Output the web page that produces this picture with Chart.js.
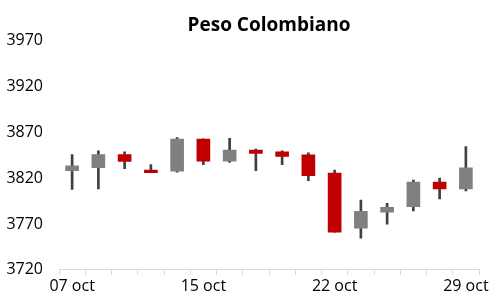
<!DOCTYPE html>
<html>
<head>
<meta charset="utf-8">
<script src="https://cdn.jsdelivr.net/npm/chart.js@4/dist/chart.umd.min.js"></script>
<style>
html,body{margin:0;padding:0;background:#fff;}
#wrap{width:503px;height:306px;position:relative;}
</style>
</head>
<body>
<div id="wrap"><canvas id="c"></canvas></div>
<script>
const labels = ['07 oct','08 oct','09 oct','10 oct','11 oct','15 oct','16 oct','17 oct','18 oct','21 oct','22 oct','23 oct','24 oct','25 oct','28 oct','29 oct'];
const openV  = [3828.3, 3831.6, 3845.9, 3829.0, 3827.6, 3862.8, 3838.6, 3850.7, 3848.9, 3845.6, 3825.7, 3765.5, 3782.8, 3789.0, 3815.8, 3808.4];
const closeV = [3833.4, 3845.9, 3838.2, 3826.0, 3862.8, 3838.6, 3850.7, 3847.0, 3843.7, 3822.8, 3761.1, 3783.9, 3788.3, 3815.8, 3808.4, 3831.2];
const highV  = [3845.9, 3850.0, 3848.9, 3834.9, 3864.3, 3863.0, 3863.5, 3851.8, 3850.0, 3847.8, 3829.0, 3796.0, 3792.7, 3818.0, 3820.2, 3854.4];
const lowV   = [3807.8, 3808.4, 3830.5, 3826.0, 3826.5, 3834.9, 3837.1, 3828.3, 3834.9, 3817.2, 3761.1, 3754.5, 3769.9, 3784.2, 3797.4, 3806.2];
const shownLabels = ['07 oct','15 oct','22 oct','29 oct'];

const UP = '#808080', DOWN = '#C00000', WICK = '#404040';
const bodyData = labels.map((_, i) => [openV[i], closeV[i]]);
const wickData = labels.map((_, i) => [lowV[i], highV[i]]);
const bodyColors = labels.map((_, i) => closeV[i] >= openV[i] ? UP : DOWN);

const FONT = "'Open Sans', sans-serif";

new Chart(document.getElementById('c'), {
  type: 'bar',
  data: {
    labels: labels,
    datasets: [
      { label: 'body', data: bodyData, backgroundColor: bodyColors, barThickness: 13, grouped: false, order: 1, borderWidth: 0, borderSkipped: false },
      { label: 'wick', data: wickData, backgroundColor: WICK, barThickness: 2, grouped: false, order: 2, borderWidth: 0, borderSkipped: false }
    ]
  },
  options: {
    responsive: true,
    maintainAspectRatio: false,
    animation: false,
    layout: { padding: { left: 4, right: 24, top: 7, bottom: 8 } },
    plugins: {
      legend: { display: false },
      tooltip: { enabled: false },
      title: {
        display: true,
        text: 'Peso Colombiano',
        color: '#000',
        fullSize: false,
        font: { family: FONT, size: 19, weight: 'bold' },
        padding: { top: 7, bottom: 4 }
      }
    },
    scales: {
      x: {
        offset: true,
        afterFit: function(scale) { scale.paddingLeft = 0; scale.paddingRight = 0; },
        grid: { display: true, drawOnChartArea: false, drawTicks: true, tickLength: 5, color: '#d9d9d9', offset: true },
        border: { display: true, color: '#d9d9d9', width: 1 },
        ticks: {
          autoSkip: false, maxRotation: 0, color: '#000', padding: 2,
          font: { family: FONT, size: 16 },
          callback: function(v, i) { const l = labels[i]; return shownLabels.includes(l) ? l : ''; }
        }
      },
      y: {
        min: 3720, max: 3970,
        afterFit: function(scale) { scale.width = 55; },
        grid: { display: false, drawTicks: false },
        border: { display: false },
        ticks: {
          stepSize: 50, color: '#000', padding: 16, font: { family: FONT, size: 16 },
          callback: function(v) { return String(v); }
        }
      }
    }
  }
});
</script>
</body>
</html>
